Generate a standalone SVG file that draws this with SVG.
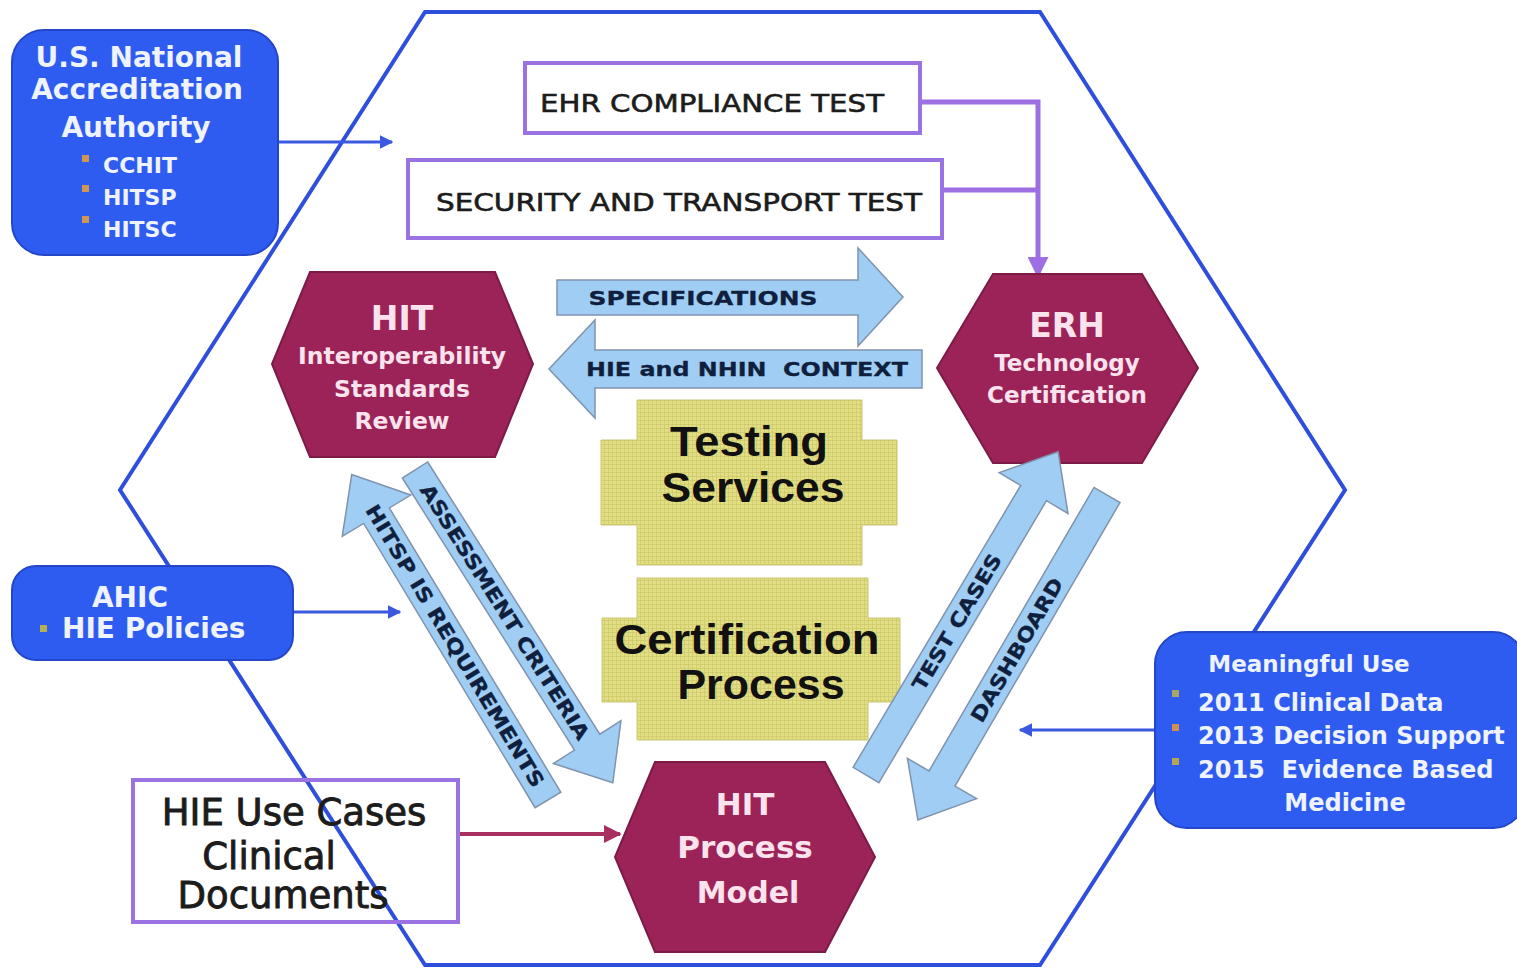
<svg xmlns="http://www.w3.org/2000/svg" width="1517" height="970" viewBox="0 0 1517 970">
<style>
.hex{fill:#9b2358;stroke:#7d1b47;stroke-width:2}
.hext{font-family:"DejaVu Sans","Noto Sans",sans-serif;font-weight:bold;fill:#fbe3ee;text-anchor:middle}
.bbox{fill:#2f5cf0;stroke:#2446c8;stroke-width:2}
.bt{font-family:"DejaVu Sans","Noto Sans",sans-serif;font-weight:bold;fill:#eef3ff}
.pbox{fill:#ffffff;stroke:#9b72e2;stroke-width:4}
.pt{font-family:"DejaVu Sans","Noto Sans",sans-serif;fill:#1c1c1c;stroke:#1c1c1c;stroke-width:0.6}
.barrow{fill:#a0cdf3;stroke:#7f93ad;stroke-width:1.5}
.at{font-family:"DejaVu Sans","Noto Sans",sans-serif;font-weight:bold;fill:#0f1f3d;stroke:#0f1f3d;stroke-width:0.3;font-size:20px;text-anchor:middle}
.yel{fill:url(#grid);stroke:#cbc670;stroke-width:1}
.yt{font-family:"Liberation Sans",Arial,sans-serif;font-weight:bold;font-size:42px;fill:#111;text-anchor:middle}
.blue{stroke:#3a58e0;stroke-width:3;fill:none}
.purp{stroke:#9d6fe3;stroke-width:5;fill:none}
.bul{fill:#d39552}
</style>
<defs>
<pattern id="grid" width="4" height="4" patternUnits="userSpaceOnUse">
<rect width="4" height="4" fill="#e2de84"/>
<path d="M0 0.5H4M0.5 0V4" stroke="#cdc86a" stroke-width="1" stroke-opacity="0.7"/>
</pattern>
<marker id="mBlue" viewBox="0 0 10 10" refX="9" refY="5" markerWidth="4.5" markerHeight="4.5" orient="auto"><path d="M0,0 L10,5 L0,10 z" fill="#3a58e0"/></marker>
<marker id="mPurp" viewBox="0 0 10 10" refX="9" refY="5" markerWidth="4.2" markerHeight="4.2" orient="auto"><path d="M0,0 L10,5 L0,10 z" fill="#9d6fe3"/></marker>
<marker id="mMar" viewBox="0 0 10 10" refX="9" refY="5" markerWidth="4.5" markerHeight="4.5" orient="auto"><path d="M0,0 L10,5 L0,10 z" fill="#a83060"/></marker>
</defs>
<rect width="1517" height="970" fill="#ffffff"/>

<g id="frame">
<polygon points="425,12 1040,12 1345,490 1040,965 425,965 120,490" fill="none" stroke="#2e4fdc" stroke-width="4"/>
</g>

<g id="connectors">
<line class="blue" x1="278" y1="142" x2="392" y2="142" marker-end="url(#mBlue)"/>
<line class="blue" x1="293" y1="612" x2="400" y2="612" marker-end="url(#mBlue)"/>
<line class="blue" x1="1155" y1="730" x2="1020" y2="730" marker-end="url(#mBlue)"/>
<polyline class="purp" points="920,102 1038,102 1038,276" marker-end="url(#mPurp)"/>
<line class="purp" x1="942" y1="190" x2="1038" y2="190"/>
<line x1="458" y1="834" x2="620" y2="834" stroke="#a83060" stroke-width="4" marker-end="url(#mMar)"/>
</g>

<g id="nat-accreditation">
<rect class="bbox" x="12" y="30" width="266" height="225" rx="32"/>
<text class="bt" x="139" y="67" font-size="28" text-anchor="middle">U.S. National</text>
<text class="bt" x="137" y="99" font-size="28" text-anchor="middle">Accreditation</text>
<text class="bt" x="136" y="137" font-size="28" text-anchor="middle">Authority</text>
<rect class="bul" x="82" y="155" width="7" height="7"/>
<rect class="bul" x="82" y="185" width="7" height="7"/>
<rect class="bul" x="82" y="216" width="7" height="7"/>
<text class="bt" x="103" y="173" font-size="22">CCHIT</text>
<text class="bt" x="103" y="205" font-size="22">HITSP</text>
<text class="bt" x="103" y="237" font-size="22">HITSC</text>
</g>

<g id="ahic">
<rect class="bbox" x="12" y="566" width="281" height="94" rx="24"/>
<text class="bt" x="130" y="607" font-size="28" text-anchor="middle">AHIC</text>
<rect x="40" y="625" width="7" height="7" fill="#b5b055"/>
<text class="bt" x="62" y="638" font-size="28">HIE Policies</text>
</g>

<g id="meaningful-use">
<rect class="bbox" x="1155" y="632" width="370" height="196" rx="32"/>
<text class="bt" x="1309" y="672" font-size="23" text-anchor="middle">Meaningful Use</text>
<rect x="1172" y="690" width="7" height="7" fill="#a8a865"/>
<rect x="1172" y="724" width="7" height="7" fill="#d09052"/>
<rect x="1172" y="758" width="7" height="7" fill="#b8a455"/>
<text class="bt" x="1198" y="711" font-size="24">2011 Clinical Data</text>
<text class="bt" x="1198" y="744" font-size="24">2013 Decision Support</text>
<text class="bt" x="1198" y="778" font-size="24" xml:space="preserve">2015  Evidence Based</text>
<text class="bt" x="1345" y="811" font-size="24" text-anchor="middle">Medicine</text>
</g>

<g id="ehr-compliance-test">
<rect class="pbox" x="525" y="63" width="395" height="70"/>
<text class="pt" x="540" y="112" font-size="25" textLength="344" lengthAdjust="spacingAndGlyphs">EHR COMPLIANCE TEST</text>
</g>

<g id="security-transport-test">
<rect class="pbox" x="408" y="160" width="534" height="78"/>
<text class="pt" x="436" y="211" font-size="25" textLength="486" lengthAdjust="spacingAndGlyphs">SECURITY AND TRANSPORT TEST</text>
</g>

<g id="hit-standards-review">
<polygon class="hex" points="310,272 495,272 533,364 495,457 310,457 272,364"/>
<text class="hext" x="402" y="330" font-size="33">HIT</text>
<text class="hext" x="402" y="364" font-size="23.5">Interoperability</text>
<text class="hext" x="402" y="397" font-size="23.5">Standards</text>
<text class="hext" x="402" y="429" font-size="23.5">Review</text>
</g>

<g id="erh-certification">
<polygon class="hex" points="993,274 1142,274 1198,368 1142,463 993,463 937,368"/>
<text class="hext" x="1067" y="337" font-size="33">ERH</text>
<text class="hext" x="1067" y="371" font-size="23">Technology</text>
<text class="hext" x="1067" y="403" font-size="23">Certification</text>
</g>

<g id="hit-process-model">
<polygon class="hex" points="655,762 825,762 875,857 825,952 655,952 615,857"/>
<text class="hext" x="745" y="815" font-size="31">HIT</text>
<text class="hext" x="745" y="858" font-size="31">Process</text>
<text class="hext" x="748" y="903" font-size="30">Model</text>
</g>

<g id="hie-use-cases">
<rect x="133" y="780" width="325" height="142" fill="none" stroke="#9b72e2" stroke-width="4"/>
<text class="pt" x="294" y="825" font-size="37" text-anchor="middle" style="stroke-width:0.9">HIE Use Cases</text>
<text class="pt" x="269" y="869" font-size="37" text-anchor="middle" style="stroke-width:0.9">Clinical</text>
<text class="pt" x="283" y="908" font-size="37" text-anchor="middle" style="stroke-width:0.9">Documents</text>
</g>

<g id="testing-services">
<polygon class="yel" points="637,400 862,400 862,440 897,440 897,525 862,525 862,565 637,565 637,525 601,525 601,440 637,440"/>
<text class="yt" x="749" y="456" textLength="158" lengthAdjust="spacingAndGlyphs">Testing</text>
<text class="yt" x="753" y="502" textLength="183" lengthAdjust="spacingAndGlyphs">Services</text>
</g>

<g id="certification-process">
<polygon class="yel" points="637,578 868,578 868,618 900,618 900,702 868,702 868,740 637,740 637,702 602,702 602,618 637,618"/>
<text class="yt" x="747" y="654" font-size="41" textLength="265" lengthAdjust="spacingAndGlyphs">Certification</text>
<text class="yt" x="761" y="699" font-size="41" textLength="167" lengthAdjust="spacingAndGlyphs">Process</text>
</g>

<g id="specifications">
<path class="barrow" d="M557,280 H858 V248 L903,297 L858,346 V315 H557 Z"/>
<text class="at" x="703" y="305" font-size="21" textLength="229" lengthAdjust="spacingAndGlyphs">SPECIFICATIONS</text>
</g>

<g id="hie-nhin-context">
<path class="barrow" d="M922,350 H595 V320 L549,369 L595,418 V388 H922 Z"/>
<text class="at" x="747" y="376" font-size="21" textLength="322" lengthAdjust="spacingAndGlyphs" xml:space="preserve">HIE and NHIN  CONTEXT</text>
</g>

<g id="assessment-criteria">
<g transform="translate(415,470) rotate(57.68)">
<path class="barrow" d="M0,-15 H322 V-40 L370,0 L322,40 V15 H0 Z"/>
<text class="at" x="168" y="7" textLength="298" lengthAdjust="spacingAndGlyphs">ASSESSMENT CRITERIA</text>
</g>
</g>

<g id="hitsp-requirements">
<path class="barrow" transform="translate(548,800) rotate(238.9)" d="M0,-15 H332 V-40 L380,0 L332,40 V15 H0 Z"/>
<text class="at" transform="translate(455,646) rotate(58.9)" x="0" y="7" textLength="326" lengthAdjust="spacingAndGlyphs">HITSP IS REQUIREMENTS</text>
</g>

<g id="test-cases">
<g transform="translate(866,775) rotate(-59.27)">
<path class="barrow" d="M0,-15 H328 V-40 L376,0 L328,40 V15 H0 Z"/>
<text class="at" x="178" y="7" textLength="155" lengthAdjust="spacingAndGlyphs">TEST CASES</text>
</g>
</g>

<g id="dashboard">
<path class="barrow" transform="translate(1107,495) rotate(120.2)" d="M0,-15 H328 V-40 L376,0 L328,40 V15 H0 Z"/>
<text class="at" transform="translate(1017,650) rotate(-59.8)" x="0" y="7" textLength="163" lengthAdjust="spacingAndGlyphs">DASHBOARD</text>
</g>
</svg>
